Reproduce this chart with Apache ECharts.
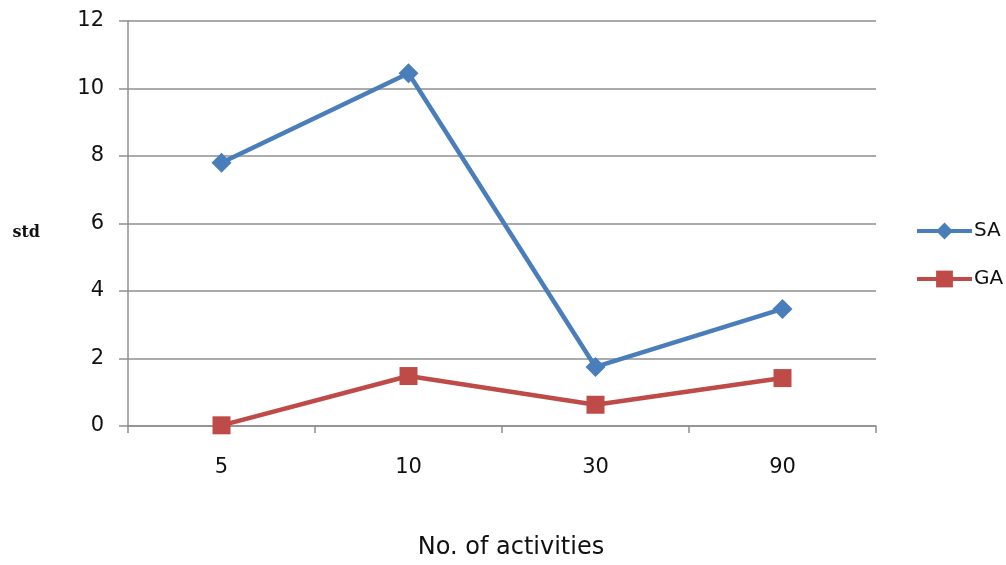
<!DOCTYPE html>
<html>
<head>
<meta charset="utf-8">
<script src="https://cdn.jsdelivr.net/npm/echarts@6/dist/echarts.min.js"></script>
<style>
  html, body { margin: 0; padding: 0; background: #fff; }
  #chart { width: 1006px; height: 565px; }
</style>
</head>
<body>
<div id="chart"></div>
<script>
// Number of activities on the x axis, std on the y axis
const categories = ['5', '10', '30', '90'];
const saValues = [7.8, 10.45, 1.75, 3.47];
const gaValues = [0.02, 1.48, 0.63, 1.42];
const yTicks = [0, 2, 4, 6, 8, 10, 12];

const font = '"DejaVu Sans", "Liberation Sans", sans-serif';
const blue = '#4A7EBB';
const red = '#BE4B48';
const axisGray = '#8f8f8f';
const textColor = '#111';

const chart = echarts.init(document.getElementById('chart'), null, { renderer: 'canvas' });

chart.setOption({
  animation: false,
  backgroundColor: '#fff',
  grid: { left: 128, right: 130, top: 21, bottom: 134, containLabel: false },
  legend: {
    orient: 'vertical',
    left: 915,
    top: 221,
    padding: 0,
    itemGap: 28,
    itemWidth: 55,
    itemHeight: 21,
    lineStyle: { width: 4 },
    textStyle: { fontFamily: font, fontSize: 20, color: textColor, padding: [0, 0, 0, -3] },
    data: ['SA', 'GA']
  },
  xAxis: {
    type: 'category',
    data: categories,
    boundaryGap: true,
    name: 'No. of activities',
    nameLocation: 'middle',
    nameGap: 110,
    nameTextStyle: { fontFamily: font, fontSize: 24, color: textColor, padding: [0, 0, 0, 18] },
    axisLine: { lineStyle: { color: axisGray, width: 1.5 } },
    axisTick: { show: true, length: 7, alignWithLabel: false, lineStyle: { color: axisGray, width: 1.5 } },
    axisLabel: { fontFamily: font, fontSize: 21, color: textColor, margin: 31 },
    splitLine: { show: false }
  },
  yAxis: {
    type: 'value',
    min: yTicks[0],
    max: yTicks[yTicks.length - 1],
    interval: 2,
    name: 'std',
    nameLocation: 'middle',
    nameRotate: 0,
    nameGap: 88,
    nameTextStyle: {
      fontFamily: '"DejaVu Serif", "Liberation Serif", serif',
      fontWeight: 'bold', fontSize: 16, color: textColor,
      verticalAlign: 'top',
      padding: [1, 0, 0, 0]
    },
    axisLine: { show: true, lineStyle: { color: axisGray, width: 1.5 } },
    axisTick: { show: true, length: 9, inside: false, lineStyle: { color: axisGray, width: 1.5 } },
    axisLabel: { fontFamily: font, fontSize: 21, color: textColor, margin: 24 },
    splitLine: { show: true, lineStyle: { color: axisGray, width: 1.5 } }
  },
  series: [
    {
      name: 'SA',
      type: 'line',
      data: saValues,
      symbol: 'diamond',
      symbolSize: 20,
      color: blue,
      lineStyle: { color: blue, width: 4.5 },
      itemStyle: { color: blue }
    },
    {
      name: 'GA',
      type: 'line',
      data: gaValues,
      symbol: 'rect',
      symbolSize: 18,
      color: red,
      lineStyle: { color: red, width: 4.5 },
      itemStyle: { color: red }
    }
  ]
});
</script>
</body>
</html>
